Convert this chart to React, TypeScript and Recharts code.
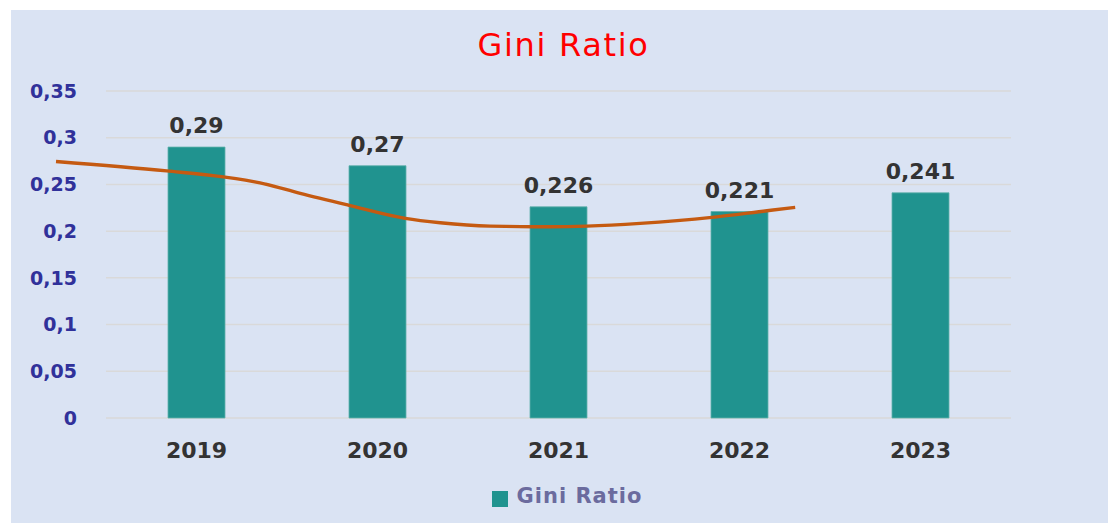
import React from 'react';
import {
  ComposedChart,
  Bar,
  Line,
  XAxis,
  YAxis,
  CartesianGrid,
  Legend,
  LabelList,
} from 'recharts';

const years = ['2019', '2020', '2021', '2022', '2023'];
const giniValues = [0.29, 0.27, 0.226, 0.221, 0.241];
const yTicks = [0, 0.05, 0.1, 0.15, 0.2, 0.25, 0.3, 0.35];
// trend line: position in category units (2019 = 0) and value
const trendPos = [-0.775, -0.163, 0.148, 0.352, 0.574, 0.839, 1.154, 1.347, 1.623, 1.955, 2.157, 2.452, 2.848, 3.152, 3.308];
const trendValues = [0.2746, 0.2645, 0.2581, 0.2517, 0.2404, 0.2279, 0.2137, 0.209, 0.2054, 0.2047, 0.2054, 0.2083, 0.2147, 0.2218, 0.2254];

const chartData = years.map((year, i) => ({ year, gini: giniValues[i] }));
const trendData = trendPos.map((t, i) => ({ t, v: trendValues[i] }));

const fmt = (v: any) => String(v).replace('.', ',');

const YTick = (props: any) => {
  const { x, y, payload } = props;
  return (
    <text
      x={x + 21}
      y={y}
      dy="0.35em"
      textAnchor="end"
      fontSize={19}
      fontWeight="bold"
      fill="#30319a"
    >
      {fmt(payload.value)}
    </text>
  );
};

export default function App() {
  return (
    <div
      style={{
        position: 'fixed',
        left: 11,
        top: 10,
        width: 1097,
        height: 513,
        background: '#dae3f3',
        fontFamily: '"DejaVu Sans", Verdana, sans-serif',
      }}
    >
      <div
        style={{
          position: 'absolute',
          left: 4,
          top: 19,
          width: '100%',
          textAlign: 'center',
          color: '#ff0000',
          fontSize: 32,
          lineHeight: '32px',
          letterSpacing: 1.7,
        }}
      >
        Gini Ratio
      </div>
      <ComposedChart
        width={1097}
        height={513}
        data={chartData}
        margin={{ top: 81, right: 97, bottom: 15, left: 0 }}
      >
        <CartesianGrid horizontal vertical={false} stroke="#d9d9d9" strokeWidth={1.5} x={95} width={905} />
        <XAxis
          dataKey="year"
          type="category"
          padding={{ left: 50, right: 0 }}
          axisLine={false}
          tickLine={false}
          tickSize={0}
          tickMargin={24}
          height={66}
          interval={0}
          tick={{ fontSize: 22, fontWeight: 'bold', fill: '#333333' }}
        />
        <XAxis xAxisId="t" type="number" dataKey="t" domain={['dataMin', 4.5]} hide />
        <YAxis
          type="number"
          domain={[0, 0.35]}
          ticks={yTicks}
          interval={0}
          width={45}
          axisLine={false}
          tickLine={false}
          tickSize={0}
          tickMargin={0}
          tick={<YTick />}
        />
        <Bar
          dataKey="gini"
          name="Gini Ratio"
          fill="#20938f"
          stroke="#5fb0ab"
          strokeWidth={0.8}
          barSize={57}
          isAnimationActive={false}
        >
          <LabelList
            dataKey="gini"
            position="top"
            offset={14}
            formatter={fmt}
            style={{ fontSize: 22, fontWeight: 'bold', fill: '#333333' }}
          />
        </Bar>
        <Line
          xAxisId="t"
          data={trendData}
          dataKey="v"
          type="monotone"
          stroke="#c55a11"
          strokeWidth={3.4}
          dot={false}
          activeDot={false}
          legendType="none"
          isAnimationActive={false}
        />
        <Legend
          verticalAlign="bottom"
          align="center"
          iconType="square"
          iconSize={16}
          wrapperStyle={{ left: 0, width: 1122 }}
          formatter={(value: any) => (
            <span
              style={{
                color: '#6b6b9e',
                fontWeight: 'bold',
                fontSize: 21,
                letterSpacing: 1,
                marginLeft: 5,
              }}
            >
              {value}
            </span>
          )}
        />
      </ComposedChart>
    </div>
  );
}
